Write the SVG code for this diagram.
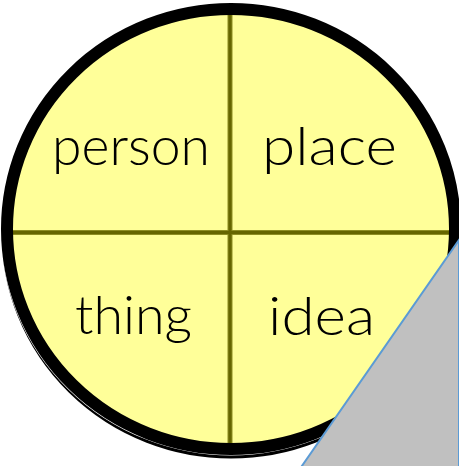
<svg xmlns="http://www.w3.org/2000/svg" width="459" height="466" viewBox="0 0 459 466">
  <style>
    .lbl { font-family: "Lato", "DejaVu Sans", sans-serif; font-weight: 300; font-size: 53px; fill: #000000; }
    .div-outer { stroke: #8E8E22; stroke-width: 5; fill: none; }
    .div-inner { stroke: #666600; stroke-width: 3; fill: none; }
  </style>
  <rect width="459" height="466" fill="#FFFFFF"/>
  <g id="circle">
    <ellipse cx="231" cy="233" rx="224" ry="220" fill="none" stroke="#000000" stroke-width="11"/>
    <ellipse cx="231" cy="229" rx="224" ry="220" fill="none" stroke="#FFFFFF" stroke-width="13"/>
    <ellipse cx="231" cy="229" rx="224" ry="220" fill="#FFFF99"/>
  </g>
  <g id="connectors">
    <line class="div-outer" x1="230" y1="12" x2="230" y2="448"/>
    <line class="div-outer" x1="8" y1="232.5" x2="454" y2="232.5"/>
    <line class="div-inner" x1="230" y1="12" x2="230" y2="448"/>
    <line class="div-inner" x1="8" y1="232.5" x2="454" y2="232.5"/>
  </g>
  <g id="border">
    <ellipse cx="231" cy="229" rx="224" ry="220" fill="none" stroke="#000000" stroke-width="12"/>
  </g>
  <g id="person"><text class="lbl" x="52" y="165" textLength="158" lengthAdjust="spacingAndGlyphs">person</text></g>
  <g id="place"><text class="lbl" x="262" y="165" textLength="135" lengthAdjust="spacingAndGlyphs">place</text></g>
  <g id="thing"><text class="lbl" x="75" y="334" textLength="117" lengthAdjust="spacingAndGlyphs">thing</text></g>
  <g id="idea"><text class="lbl" x="268" y="335" textLength="107" lengthAdjust="spacingAndGlyphs">idea</text></g>
  <g id="corner">
    <polygon points="459,240 459,468 300.5,468" fill="#C0C0C0" stroke="#5B9BD5" stroke-width="2"/>
  </g>
</svg>
